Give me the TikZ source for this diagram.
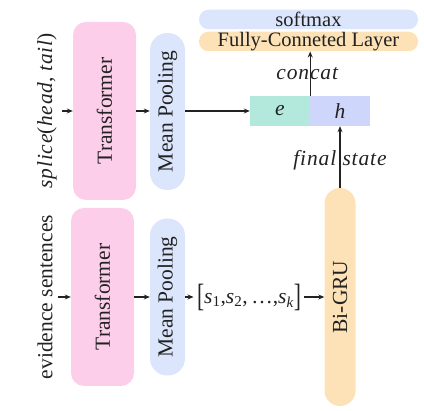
\documentclass[tikz,border=0pt]{standalone}
\usepackage{graphicx}
\usepackage{fontspec}
\setmainfont{Liberation Serif}
\newfontfamily\itsp{Liberation Serif}[LetterSpace=4]
\usetikzlibrary{arrows.meta}
\definecolor{cpink}{RGB}{253,206,234}
\definecolor{cblue}{RGB}{219,230,252}
\definecolor{corange}{RGB}{252,226,182}
\definecolor{cteal}{RGB}{179,232,221}
\definecolor{clav}{RGB}{206,214,251}
\definecolor{ctext}{RGB}{34,34,34}
\newcommand{\ivar}[1]{{\itsp\itshape #1}}
\newcommand{\bigbr}[1]{\raisebox{-0.1em}{\scalebox{1}[1.5]{#1}}}
\tikzset{
  x=1pt, y=-1pt,
  every node/.style={text=ctext, font=\fontsize{21.5}{23}\selectfont},
  blockbox/.style={draw=none, rounded corners=#1, inner sep=0pt},
  tbox/.style={blockbox=13pt, fill=cpink, minimum width=63pt, minimum height=178pt},
  mbox/.style={blockbox=17pt, fill=cblue, minimum width=35pt, minimum height=157pt},
  vecbox/.style={inner sep=0pt, minimum width=60pt, minimum height=30pt},
  barbox/.style={blockbox=9.5pt, minimum width=219pt, minimum height=19.5pt, font=\fontsize{20.5}{21}\selectfont},
  arr/.style={-{Stealth[length=6pt,width=5pt]}, line width=1.1pt, draw=ctext},
}
\begin{document}
\begin{tikzpicture}
\useasboundingbox (0,0) rectangle (424,411);
% top row
\node[rotate=90] (splice) at (47,111) {\ivar{splice}(\ivar{head}, \ivar{tail})};
\node[tbox] (t1) at (104.5,111) {};
\node[rotate=90] at (t1) {Transformer};
\node[mbox] (m1) at (167.5,111.5) {};
\node[rotate=90] at (m1) {Mean Pooling};
\node[vecbox, fill=cteal] (e) at (280,111) {\ivar{e}};
\node[vecbox, fill=clav] (h) at (340,111) {\ivar{h}};
\node[barbox, fill=corange] (fc) at (308.5,41.5) {Fully-Conneted Layer};
\node[barbox, fill=cblue] (sm) at (308.5,19.5) {softmax};
% bottom row
\node[rotate=90] (evid) at (45,297) {evidence sentences};
\node[tbox] (t2) at (102.5,297) {};
\node[rotate=90] at (t2) {Transformer};
\node[mbox] (m2) at (167.5,297) {};
\node[rotate=90] at (m2) {Mean Pooling};
\node (seq) at (249,297) {\bigbr{[}\ivar{s}\textsubscript{1},\ivar{s}\textsubscript{2},\,\dots,\ivar{s}\textsubscript{\ivar{k}}\bigbr{]}};
\node[blockbox=15.5pt, fill=corange, minimum width=31pt, minimum height=218pt] (gru) at (340,297) {};
\node[rotate=90] at (gru) {Bi-GRU};
% connectors
\coordinate (s1) at (62,111);
\coordinate (s2) at (58,297);
\draw[arr] (s1) -- (t1.west |- s1);
\draw[arr] (t1.east |- 0,111) -- (m1.west |- 0,111);
\draw[arr] (m1.east |- 0,111) -- (e.west);
\draw[arr] (e.north east) -- (e.north east |- fc.south) node[pos=0.5, xshift=-3pt] (concat) {\ivar{concat}};
\draw[arr] (gru.north) -- (h.south) node[pos=0.45] (fs) {\ivar{final state}};
\draw[arr] (s2) -- (t2.west |- s2);
\draw[arr] (t2.east |- 0,297) -- (m2.west |- 0,297);
\draw[arr] (m2.east |- 0,297) -- (seq.west);
\draw[arr] (seq.east) -- (gru.west);
\end{tikzpicture}
\end{document}
